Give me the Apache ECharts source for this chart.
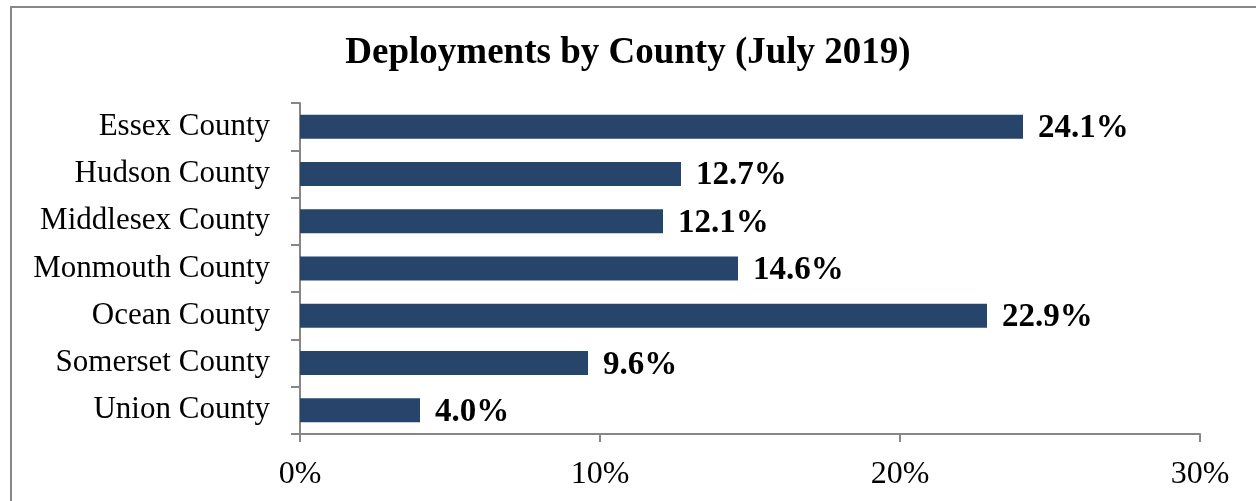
<!DOCTYPE html>
<html><head><meta charset="utf-8">
<script src="https://cdn.jsdelivr.net/npm/echarts@6/dist/echarts.min.js"></script>
<style>html,body{margin:0;padding:0;background:#fff}#c{width:1256px;height:501px}</style>
</head><body><div id="c"></div>
<script>
const categories = ["Essex County","Hudson County","Middlesex County","Monmouth County","Ocean County","Somerset County","Union County"];
const values = [24.1, 12.7, 12.1, 14.6, 22.9, 9.6, 4.0];
const xTicks = [0, 10, 20, 30];
const font = "'Liberation Serif','Times New Roman',serif";
const chart = echarts.init(document.getElementById('c'));
chart.setOption({
  animation: false,
  backgroundColor: '#fff',
  title: {text: 'Deployments by County (July 2019)', left: 'center', top: 30,
    textStyle: {fontFamily: font, fontSize: 37, fontWeight: 'bold', color: '#000'}},
  graphic: [{type: 'rect', shape: {x: 11, y: 7, width: 1400, height: 700},
    style: {fill: 'none', stroke: '#878787', lineWidth: 2}, silent: true}],
  grid: {left: 300, right: 56, top: 103, bottom: 67, containLabel: false},
  xAxis: {type: 'value', min: xTicks[0], max: xTicks[xTicks.length-1], interval: 10,
    axisLine: {show: true, lineStyle: {color: '#878787', width: 2}},
    axisTick: {show: true, length: 8, lineStyle: {color: '#878787', width: 2}},
    splitLine: {show: false},
    axisLabel: {formatter: '{value}%', margin: 25, fontFamily: font, fontSize: 32, color: '#000'}},
  yAxis: {type: 'category', data: categories, inverse: true,
    axisLine: {show: true, lineStyle: {color: '#878787', width: 2}},
    axisTick: {show: true, length: 9, lineStyle: {color: '#878787', width: 2}},
    axisLabel: {margin: 30, fontFamily: font, fontSize: 31, color: '#000', padding: [4, 0, 0, 0]}},
  series: [{type: 'bar', data: values, barWidth: 24,
    itemStyle: {color: '#27446A'},
    label: {show: true, position: 'right', distance: 15, offset: [0, 2], formatter: p => p.value.toFixed(1) + '%',
      fontFamily: font, fontSize: 33, fontWeight: 'bold', color: '#000'}}]
});
</script></body></html>
